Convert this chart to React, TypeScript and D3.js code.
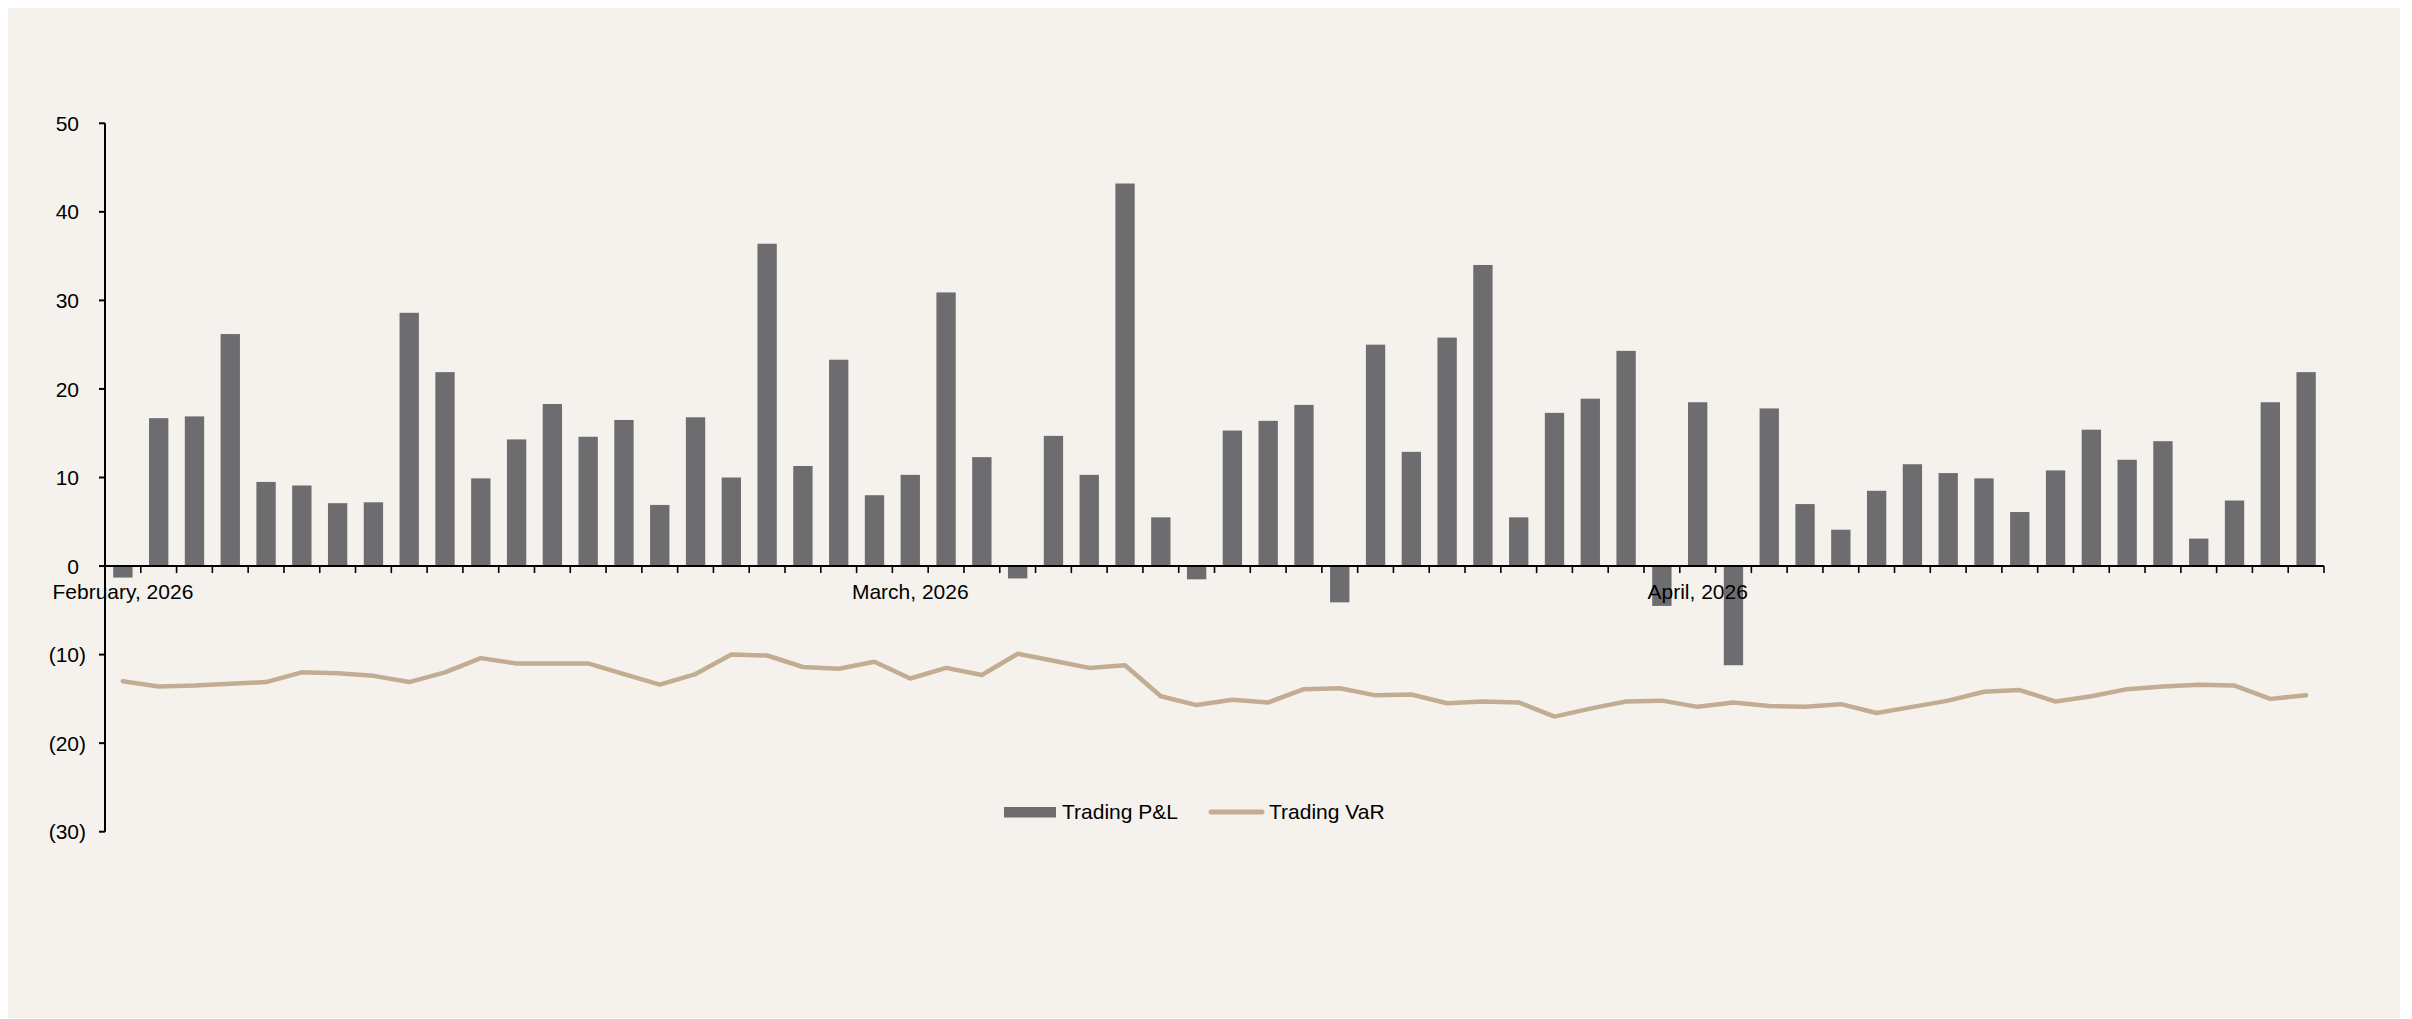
import React from "react";
import * as d3 from "d3";

// Daily Trading P&L (bars) and Trading VaR (line), 62 trading days
const tradingPnL: number[] = [
  -1.3, 16.7, 16.9, 26.2, 9.5, 9.1, 7.1, 7.2, 28.6, 21.9,
  9.9, 14.3, 18.3, 14.6, 16.5, 6.9, 16.8, 10.0, 36.4, 11.3,
  23.3, 8.0, 10.3, 30.9, 12.3, -1.4, 14.7, 10.3, 43.2, 5.5,
  -1.5, 15.3, 16.4, 18.2, -4.1, 25.0, 12.9, 25.8, 34.0, 5.5,
  17.3, 18.9, 24.3, -4.5, 18.5, -11.2, 17.8, 7.0, 4.1, 8.5,
  11.5, 10.5, 9.9, 6.1, 10.8, 15.4, 12.0, 14.1, 3.1, 7.4,
  18.5, 21.9,
];

const tradingVaR: number[] = [
  -13.0, -13.6, -13.5, -13.3, -13.1, -12.0, -12.1, -12.4, -13.1, -12.0,
  -10.4, -11.0, -11.0, -11.0, -12.2, -13.4, -12.2, -10.0, -10.1, -11.4,
  -11.6, -10.8, -12.7, -11.5, -12.3, -9.9, -10.7, -11.5, -11.2, -14.7,
  -15.7, -15.1, -15.4, -13.9, -13.8, -14.6, -14.5, -15.5, -15.3, -15.4,
  -17.0, -16.1, -15.3, -15.2, -15.9, -15.4, -15.8, -15.9, -15.6, -16.6,
  -15.9, -15.2, -14.2, -14.0, -15.3, -14.7, -13.9, -13.6, -13.4, -13.5,
  -15.0, -14.6,
];

const yTicks: number[] = [50, 40, 30, 20, 10, 0, -10, -20, -30];
const monthLabelIndex: number[] = [0, 22, 44];
const monthLabelText: string[] = ["February, 2026", "March, 2026", "April, 2026"];
const seriesNames: string[] = ["Trading P&L", "Trading VaR"];

const W = 2392;
const H = 1015;
const OFFX = 8; // page offset of the svg
const OFFY = 3;
const BG = "#F5F2ED";
const BAR = "#6D6D70";
const LINE = "#C2AD93";
const FONT = "'Liberation Sans', Arial, Helvetica, sans-serif";

export default function App() {
  const x0 = 105;
  const x1 = 2324;
  const yTop = 123.3;
  const yBot = 831.7;

  const idx = tradingPnL.map((_, i) => i);
  const x = d3
    .scaleBand<number>()
    .domain(idx)
    .range([x0, x1])
    .paddingInner(0.46)
    .paddingOuter(0.23);
  const y = d3.scaleLinear().domain([-30, 50]).range([yBot, yTop]);
  const step = x.step();
  const cx = (i: number) => (x(i) as number) + x.bandwidth() / 2;

  const line = d3
    .line<number>()
    .x((_, i) => cx(i))
    .y((d) => y(d));

  const zeroY = y(0);
  const boundaries = d3.range(idx.length + 1).map((k) => x0 + k * step);

  const fmt = (v: number) => (v < 0 ? `(${Math.abs(v)})` : `${v}`);

  return (
    <svg
      width={W}
      height={H}
      style={{ display: "block", marginTop: -5 }}
      fontFamily={FONT}
    >
      <g transform={`translate(${-OFFX},${-OFFY})`}>
        <rect x={OFFX} y={OFFY} width={W} height={H} fill={BG} />

        {/* bars */}
        {tradingPnL.map((v, i) => (
          <rect
            key={`b${i}`}
            x={x(i)}
            width={x.bandwidth()}
            y={Math.min(y(v), zeroY)}
            height={Math.abs(y(v) - zeroY)}
            fill={BAR}
          />
        ))}

        {/* VaR line */}
        <path
          d={line(tradingVaR) || ""}
          fill="none"
          stroke={LINE}
          strokeWidth={4.5}
          strokeLinejoin="round"
          strokeLinecap="round"
        />

        {/* y axis */}
        <line x1={x0} x2={x0} y1={yTop} y2={yBot} stroke="#000" strokeWidth={2} />
        {yTicks.map((t) => (
          <g key={`yt${t}`}>
            <line x1={x0 - 6} x2={x0} y1={y(t)} y2={y(t)} stroke="#000" strokeWidth={2} />
            <text
              x={t < 0 ? 86 : 79}
              y={y(t)}
              dy="0.36em"
              textAnchor="end"
              fontSize={21}
              fill="#000"
            >
              {fmt(t)}
            </text>
          </g>
        ))}

        {/* x axis */}
        <line x1={x0} x2={x1} y1={zeroY} y2={zeroY} stroke="#000" strokeWidth={2} />
        {boundaries.map((bx, k) => (
          <line
            key={`xt${k}`}
            x1={bx}
            x2={bx}
            y1={zeroY}
            y2={zeroY + 7}
            stroke="#000"
            strokeWidth={1.6}
          />
        ))}
        {monthLabelIndex.map((mi, k) => (
          <text
            key={`ml${k}`}
            x={cx(mi)}
            y={599}
            textAnchor="middle"
            fontSize={21}
            fill="#000"
          >
            {monthLabelText[k]}
          </text>
        ))}

        {/* legend */}
        <rect x={1004} y={807} width={52} height={10.5} fill={BAR} />
        <text x={1062} y={819} fontSize={21} fill="#000">
          {seriesNames[0]}
        </text>
        <line
          x1={1211}
          x2={1262}
          y1={812}
          y2={812}
          stroke={LINE}
          strokeWidth={5}
          strokeLinecap="round"
        />
        <text x={1269} y={819} fontSize={21} fill="#000">
          {seriesNames[1]}
        </text>
      </g>
    </svg>
  );
}
